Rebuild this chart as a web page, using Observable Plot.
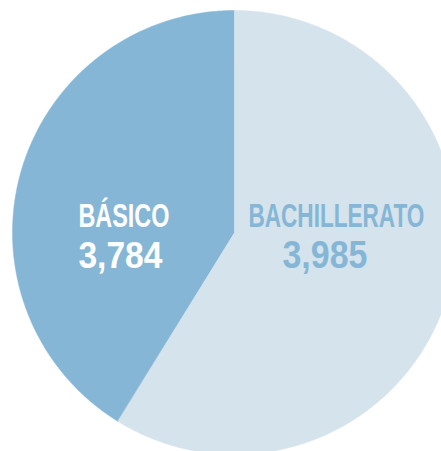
<!DOCTYPE html>
<html>
<head>
<meta charset="utf-8">
<script src="https://cdn.jsdelivr.net/npm/d3@7"></script>
<script src="https://cdn.jsdelivr.net/npm/@observablehq/plot@0.6"></script>
<style>
  html, body { margin: 0; padding: 0; background: #ffffff; overflow: hidden; }
  #chart svg { display: block; }
</style>
</head>
<body>
<div id="chart"></div>
<script>
// ---- data ----
const categories = ["BÁSICO", "BACHILLERATO"];
const counts = [3784, 3985];
// slice shares (percent of the circle) as drawn in the picture
const sliceShare = [41.2, 58.8];

// ---- layout / style (kept apart from the data) ----
const W = 441, H = 451;
const cx = 234, cy = 232, R = 222;          // pixel centre and radius
const colors = {"BÁSICO": "#85b6d6", "BACHILLERATO": "#d4e3ec"};
const labelColors = {"BÁSICO": "#ffffff", "BACHILLERATO": "#85b6d6"};
// label anchor positions in unit-circle coordinates, target width and cap height (px)
const labelLayout = {
  "BÁSICO":       {name: [-0.703, 0.027, 91, 24],  value: [-0.703, -0.158, 84, 27]},
  "BACHILLERATO": {name: [ 0.063, 0.027, 176, 24], value: [ 0.216, -0.158, 85, 28]}
};
const fontFamily = "'Liberation Sans Narrow', 'Arial Narrow', sans-serif";

// ---- build slice polygons (unit circle, angles clockwise from 12 o'clock) ----
const slices = [];
const total = d3.sum(sliceShare);
let start = -2 * Math.PI * sliceShare[0] / total;
categories.forEach((cat, i) => {
  const span = 2 * Math.PI * sliceShare[i] / total;
  const a0 = start, a1 = start + span;
  const n = Math.max(8, Math.ceil(span / 0.01));
  slices.push({cat, x: 0, y: 0});
  for (let k = 0; k <= n; k++) {
    const a = a0 + (a1 - a0) * k / n;
    slices.push({cat, x: Math.sin(a), y: Math.cos(a)});
  }
  start = a1;
});

const labels = [];
categories.forEach((cat, i) => {
  const L = labelLayout[cat];
  labels.push({cat, kind: "name", text: cat, x: L.name[0], y: L.name[1], w: L.name[2], cap: L.name[3]});
  labels.push({cat, kind: "value", text: d3.format(",")(counts[i]), x: L.value[0], y: L.value[1], w: L.value[2], cap: L.value[3]});
});

const xDomain = [-cx / R, (W - cx) / R];
const yDomain = [-(H - cy) / R, cy / R];

const chart = Plot.plot({
  width: W,
  height: H,
  margin: 0,
  x: {domain: xDomain, range: [0, W], axis: null},
  y: {domain: yDomain, range: [H, 0], axis: null},
  style: {background: "#ffffff", overflow: "hidden"},
  marks: [
    Plot.line(slices, {
      x: "x", y: "y", z: "cat",
      fill: d => colors[d.cat],
      stroke: d => colors[d.cat],
      strokeWidth: 0.5,
      curve: "linear-closed"
    }),
    Plot.text(labels, {
      x: "x", y: "y", text: "text",
      fill: d => labelColors[d.cat],
      textAnchor: "start", lineAnchor: "bottom",
      fontSize: 20, fontWeight: "bold",
      fontFamily,
      className: "lbl"
    })
  ]
});

document.getElementById("chart").appendChild(chart);

// condensed, tall lettering: size each label to its width, then stretch vertically about its baseline
d3.select(chart).selectAll("g.lbl text").each(function(_, i) {
  const d = labels[i];
  const base = 20;
  this.style.fontSize = base + "px";
  const natural = this.getComputedTextLength() || 1;
  const f = base * d.w / natural;
  this.style.fontSize = f + "px";
  this.setAttribute("font-size", f);
  const sy = d.cap / (0.716 * f);
  let t = this.getAttribute("transform");
  if (!t) {
    const x = +this.getAttribute("x") || 0, y = +this.getAttribute("y") || 0;
    this.removeAttribute("x"); this.removeAttribute("y");
    t = `translate(${x},${y})`;
  }
  this.setAttribute("transform", `${t} scale(1,${sy.toFixed(3)})`);
});
</script>
</body>
</html>
